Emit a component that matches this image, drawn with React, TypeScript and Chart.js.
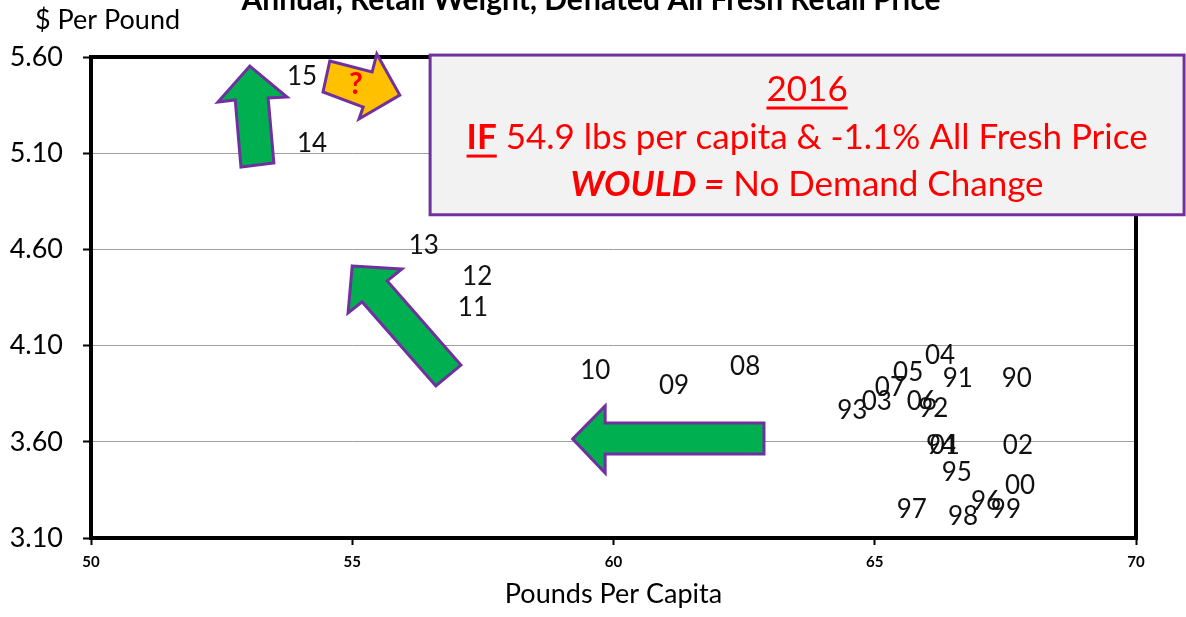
import React, { useEffect, useRef } from "react";
import { Chart, registerables } from "chart.js";

Chart.register(...registerables);

const yearLabels = ["15", "14", "13", "12", "11", "10", "09", "08", "04", "05", "91", "90", "07", "03", "93", "06", "92", "94", "01", "02", "95", "00", "96", "99", "97", "98"];
const poundsPerCapita = [54.04, 54.23, 56.37, 57.39, 57.31, 59.65, 61.16, 62.52, 66.25, 65.64, 66.59, 67.72, 65.29, 65.04, 64.57, 65.90, 66.12, 66.27, 66.34, 67.74, 66.57, 67.78, 67.13, 67.51, 65.71, 66.69];
const pricePerPound = [5.50, 5.15, 4.62, 4.46, 4.30, 3.97, 3.89, 3.99, 4.05, 3.96, 3.93, 3.93, 3.88, 3.81, 3.76, 3.81, 3.77, 3.58, 3.58, 3.58, 3.44, 3.37, 3.29, 3.25, 3.25, 3.21];

const xTickValues = [50, 55, 60, 65, 70];
const yTickValues = [3.1, 3.6, 4.1, 4.6, 5.1, 5.6];

const chartTitle = "Annual, Retail Weight, Deflated All Fresh Retail Price";
const yAxisTitle = "$ Per Pound";
const xAxisTitle = "Pounds Per Capita";

// annotation shapes in data units (pounds, $)
const upArrow = [[53.04, 5.553], [53.75, 5.392], [53.39, 5.387], [53.50, 5.049], [52.87, 5.028], [52.76, 5.377], [52.43, 5.366]];
const questionArrow = [[54.57, 5.579], [55.38, 5.522], [55.47, 5.616], [55.91, 5.402], [55.13, 5.278], [55.21, 5.340], [54.44, 5.418]];
const questionPos = [55.07, 5.46];
const diagArrow = [[55.0, 4.514], [55.95, 4.498], [55.67, 4.436], [57.08, 3.999], [56.60, 3.890], [55.19, 4.327], [54.92, 4.270]];
const leftArrow = [[59.22, 3.615], [59.84, 3.786], [59.84, 3.698], [62.88, 3.698], [62.88, 3.537], [59.84, 3.537], [59.84, 3.438]];
const noteBox = { x0: 56.49, x1: 70.92, y0: 5.61, y1: 4.78 };
const noteYear = "2016";
const noteLine2Bold = "IF";
const noteLine2 = " 54.9 lbs per capita & -1.1% All Fresh Price";
const noteLine3Bold = "WOULD =";
const noteLine3 = " No Demand Change";

const FONT = "Lato, 'Open Sans', sans-serif";

const overlayPlugin = {
  id: "overlay",
  afterDatasetsDraw(chart: any) {
    const { ctx, chartArea: a, scales } = chart;
    const X = (v: number) => scales.x.getPixelForValue(v);
    const Y = (v: number) => scales.y.getPixelForValue(v);
    ctx.save();
    // frame
    ctx.strokeStyle = "#000";
    ctx.lineWidth = 4;
    ctx.strokeRect(a.left, a.top, a.right - a.left, a.bottom - a.top);

    // data labels
    ctx.fillStyle = "#111";
    ctx.font = `26px ${FONT}`;
    ctx.textAlign = "center";
    ctx.textBaseline = "middle";
    const meta = chart.getDatasetMeta(0);
    meta.data.forEach((el: any, i: number) => {
      ctx.fillText(yearLabels[i], el.x, el.y);
    });

    const poly = (pts: number[][], fill: string) => {
      ctx.beginPath();
      pts.forEach((p, i) => (i ? ctx.lineTo(X(p[0]), Y(p[1])) : ctx.moveTo(X(p[0]), Y(p[1]))));
      ctx.closePath();
      ctx.fillStyle = fill;
      ctx.fill();
      ctx.strokeStyle = "#7030A0";
      ctx.lineWidth = 3;
      ctx.lineJoin = "miter";
      ctx.stroke();
    };
    poly(upArrow, "#00B050");
    poly(diagArrow, "#00B050");
    poly(leftArrow, "#00B050");
    poly(questionArrow, "#FFC000");
    ctx.fillStyle = "#FF0000";
    ctx.font = `bold 30px ${FONT}`;
    ctx.textAlign = "center";
    ctx.textBaseline = "middle";
    ctx.fillText("?", X(questionPos[0]), Y(questionPos[1]));

    // note box
    const bx0 = X(noteBox.x0), bx1 = X(noteBox.x1), by0 = Y(noteBox.y0), by1 = Y(noteBox.y1);
    ctx.fillStyle = "#F2F2F2";
    ctx.fillRect(bx0, by0, bx1 - bx0, by1 - by0);
    ctx.strokeStyle = "#7030A0";
    ctx.lineWidth = 3;
    ctx.strokeRect(bx0, by0, bx1 - bx0, by1 - by0);
    const cx = (bx0 + bx1) / 2;
    const red = "#FF0000";
    ctx.fillStyle = red;
    ctx.strokeStyle = red;
    ctx.textBaseline = "alphabetic";
    ctx.textAlign = "left";
    const fs = 35;
    // line 1
    ctx.font = `${fs}px ${FONT}`;
    const w1 = ctx.measureText(noteYear).width;
    const l1y = by0 + 46;
    ctx.fillText(noteYear, cx - w1 / 2, l1y);
    ctx.lineWidth = 3;
    ctx.beginPath();
    ctx.moveTo(cx - w1 / 2, l1y + 7);
    ctx.lineTo(cx + w1 / 2, l1y + 7);
    ctx.stroke();
    // line 2
    const l2y = by0 + 94;
    ctx.font = `bold ${fs}px ${FONT}`;
    const wb2 = ctx.measureText(noteLine2Bold).width;
    ctx.font = `${fs}px ${FONT}`;
    const wr2 = ctx.measureText(noteLine2).width;
    let sx = cx - (wb2 + wr2) / 2;
    ctx.font = `bold ${fs}px ${FONT}`;
    ctx.fillText(noteLine2Bold, sx, l2y);
    ctx.beginPath();
    ctx.moveTo(sx, l2y + 7);
    ctx.lineTo(sx + wb2, l2y + 7);
    ctx.stroke();
    ctx.font = `${fs}px ${FONT}`;
    ctx.fillText(noteLine2, sx + wb2, l2y);
    // line 3
    const l3y = by0 + 141;
    ctx.font = `italic bold ${fs}px ${FONT}`;
    const wb3 = ctx.measureText(noteLine3Bold).width;
    ctx.font = `${fs}px ${FONT}`;
    const wr3 = ctx.measureText(noteLine3).width;
    sx = cx - (wb3 + wr3) / 2;
    ctx.font = `italic bold ${fs}px ${FONT}`;
    ctx.fillText(noteLine3Bold, sx, l3y);
    ctx.font = `${fs}px ${FONT}`;
    ctx.fillText(noteLine3, sx + wb3, l3y);

    // titles
    ctx.fillStyle = "#000";
    ctx.font = `bold 30px ${FONT}`;
    ctx.textAlign = "center";
    ctx.fillText(chartTitle, 591, 10);
    ctx.font = `27px ${FONT}`;
    ctx.textAlign = "left";
    ctx.fillText(yAxisTitle, 35, 29);
    ctx.restore();
  },
};

export default function App() {
  const ref = useRef<HTMLCanvasElement>(null);
  useEffect(() => {
    document.body.style.margin = "0";
    const canvas = ref.current!;
    const chart = new Chart(canvas, {
      type: "scatter",
      data: {
        datasets: [
          {
            data: poundsPerCapita.map((x, i) => ({ x, y: pricePerPound[i] })),
            pointRadius: 0,
            pointHoverRadius: 0,
            showLine: false,
          },
        ],
      },
      options: {
        responsive: false,
        animation: false,
        events: [],
        layout: { padding: { top: 57, right: 50, left: 0, bottom: 0 } },
        plugins: { legend: { display: false }, tooltip: { enabled: false }, title: { display: false } },
        scales: {
          x: {
            type: "linear",
            min: 50,
            max: 70,
            afterBuildTicks: (s: any) => {
              s.ticks = xTickValues.map((v) => ({ value: v }));
            },
            afterFit: (s: any) => {
              s.height = 79;
            },
            border: { display: false },
            grid: { drawOnChartArea: false, tickLength: 7, tickColor: "#000", tickWidth: 2 },
            ticks: { font: { family: FONT, size: 15, weight: "bold" }, color: "#000", padding: 8, maxRotation: 0 },
            title: {
              display: true,
              text: xAxisTitle,
              font: { family: FONT, size: 27 },
              color: "#000",
              padding: { top: 0, bottom: 7 },
            },
          },
          y: {
            type: "linear",
            min: 3.1,
            max: 5.6,
            afterBuildTicks: (s: any) => {
              s.ticks = yTickValues.map((v) => ({ value: v }));
            },
            afterFit: (s: any) => {
              s.width = 91;
            },
            border: { display: false },
            grid: { color: "#a0a0a0", lineWidth: 1, tickLength: 8, tickColor: "#000", tickWidth: 2 },
            ticks: {
              font: { family: FONT, size: 27 },
              color: "#000",
              padding: 20,
              callback: (v: any) => Number(v).toFixed(2),
            },
          },
        },
      },
      plugins: [overlayPlugin],
    });
    return () => chart.destroy();
  }, []);
  return <canvas ref={ref} width={1186} height={617} style={{ display: "block" }} />;
}
